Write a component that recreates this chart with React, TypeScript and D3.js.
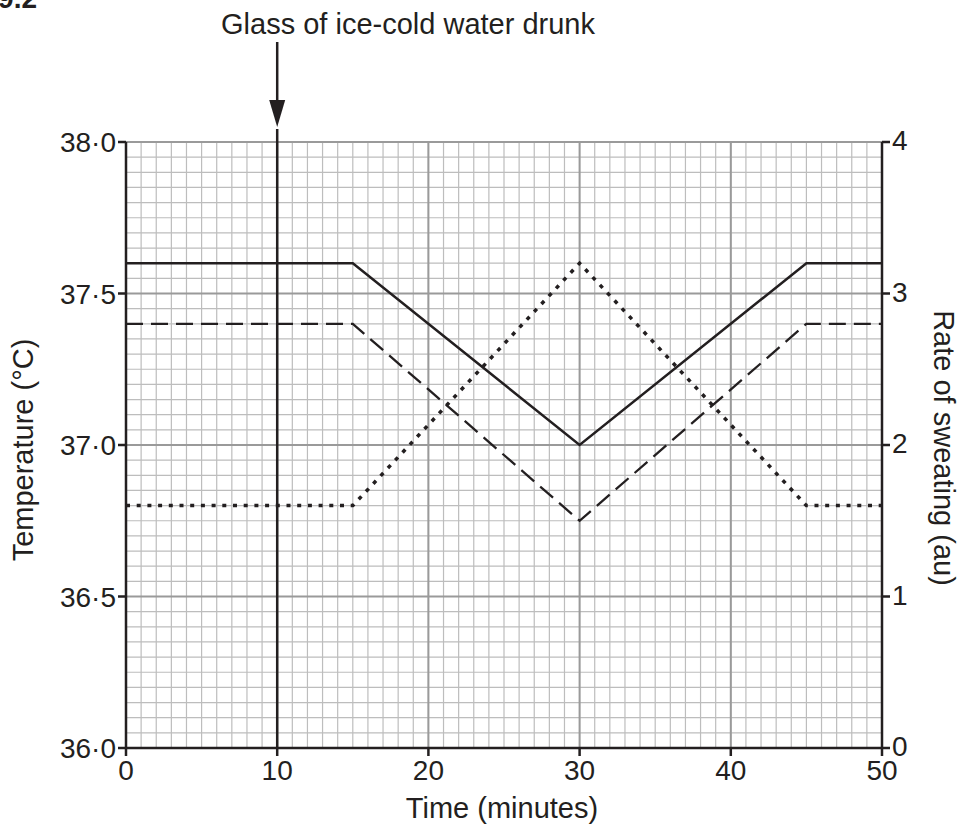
// @ts-nocheck
import React from 'react';
import * as d3 from 'd3';

const times = [0, 15, 30, 45, 50];
const tempSolid = [37.6, 37.6, 37.0, 37.6, 37.6];
const tempDashed = [37.4, 37.4, 36.75, 37.4, 37.4];
const sweatRate = [1.6, 1.6, 3.2, 1.6, 1.6];
const xTicks = [0, 10, 20, 30, 40, 50];
const tempTicks = [36.0, 36.5, 37.0, 37.5, 38.0];
const rateTicks = [0, 1, 2, 3, 4];

const width = 964, height = 834;
const left = 126, right = 882, top = 142, bottom = 748;
const font = "Liberation Sans, Arial, sans-serif";

const x = d3.scaleLinear().domain([0, 50]).range([left, right]);
const yT = d3.scaleLinear().domain([36, 38]).range([bottom, top]);
const yR = d3.scaleLinear().domain([0, 4]).range([bottom, top]);

const fmt = (v) => v.toFixed(1).replace('.', '\u00B7');

export default function App() {
  const minorX = d3.range(0, 51, 1);
  const minorY = d3.range(0, 41, 1).map(i => 36 + i * 0.05);
  const lineT = d3.line().x((d, i) => x(times[i])).y(d => yT(d));
  const lineR = d3.line().x((d, i) => x(times[i])).y(d => yR(d));
  const ax = x(10);

  return (
    <svg width={width} height={height} style={{ position: 'absolute', left: 0, top: 0, background: '#fff' }}
      fontFamily={font}>
      <text x={37} y={8} textAnchor="end" fontSize={28} fontWeight="bold" fill="#231f20">09.2</text>

      {/* minor grid */}
      <g stroke="#bdbdbd" strokeWidth={1.2}>
        {minorX.map(t => <line key={'mx' + t} x1={x(t)} x2={x(t)} y1={top} y2={bottom} />)}
        {minorY.map((t, i) => <line key={'my' + i} x1={left} x2={right} y1={yT(t)} y2={yT(t)} />)}
      </g>
      {/* major grid */}
      <g stroke="#9a9a9a" strokeWidth={2}>
        {xTicks.map(t => <line key={'Mx' + t} x1={x(t)} x2={x(t)} y1={top} y2={bottom} />)}
        {tempTicks.map(t => <line key={'My' + t} x1={left} x2={right} y1={yT(t)} y2={yT(t)} />)}
      </g>

      {/* axes */}
      <g stroke="#231f20" strokeWidth={2.5} fill="none">
        <line x1={left} x2={left} y1={top} y2={bottom + 1} />
        <line x1={right} x2={right} y1={top} y2={bottom + 1} />
        <line x1={left - 1} x2={right + 1} y1={bottom} y2={bottom} />
        {tempTicks.map(t => <line key={'lt' + t} x1={left - 8} x2={left} y1={yT(t)} y2={yT(t)} />)}
        {rateTicks.map(t => <line key={'rt' + t} x1={right} x2={right + 8} y1={yR(t)} y2={yR(t)} />)}
        {xTicks.map(t => <line key={'bt' + t} x1={x(t)} x2={x(t)} y1={bottom} y2={bottom + 8} />)}
      </g>

      {/* tick labels */}
      <g fontSize={28} fill="#231f20">
        {tempTicks.map(t => <text key={'tl' + t} x={left - 10} y={yT(t) + 10} textAnchor="end">{fmt(t)}</text>)}
        {rateTicks.map(t => <text key={'rl' + t} x={right + 10} y={yR(t) + 8}>{t}</text>)}
        {xTicks.map(t => <text key={'xl' + t} x={x(t)} y={780} textAnchor="middle">{t}</text>)}
      </g>

      {/* axis titles */}
      <g fontSize={29} fill="#231f20">
        <text x={502} y={818} textAnchor="middle">Time (minutes)</text>
        <text transform={`translate(33,450) rotate(-90)`} textAnchor="middle">Temperature (°C)</text>
        <text transform={`translate(934,448) rotate(90)`} textAnchor="middle">Rate of sweating (au)</text>
      </g>

      {/* event marker */}
      <text x={408} y={34} textAnchor="middle" fontSize={29} fill="#231f20">Glass of ice-cold water drunk</text>
      <line x1={ax} x2={ax} y1={42} y2={104} stroke="#231f20" strokeWidth={2.5} />
      <path d={`M${ax - 8},${100} L${ax + 8},${100} L${ax},${127} Z`} fill="#231f20" />
      <line x1={ax} x2={ax} y1={129} y2={bottom} stroke="#231f20" strokeWidth={2.5} />

      {/* data lines */}
      <path d={lineT(tempSolid)} fill="none" stroke="#231f20" strokeWidth={2.5} />
      <path d={lineT(tempDashed)} fill="none" stroke="#231f20" strokeWidth={2.3} strokeDasharray="17 8" />
      <path d={lineR(sweatRate)} fill="none" stroke="#231f20" strokeWidth={3.5} strokeDasharray="4 6.7" />
    </svg>
  );
}
